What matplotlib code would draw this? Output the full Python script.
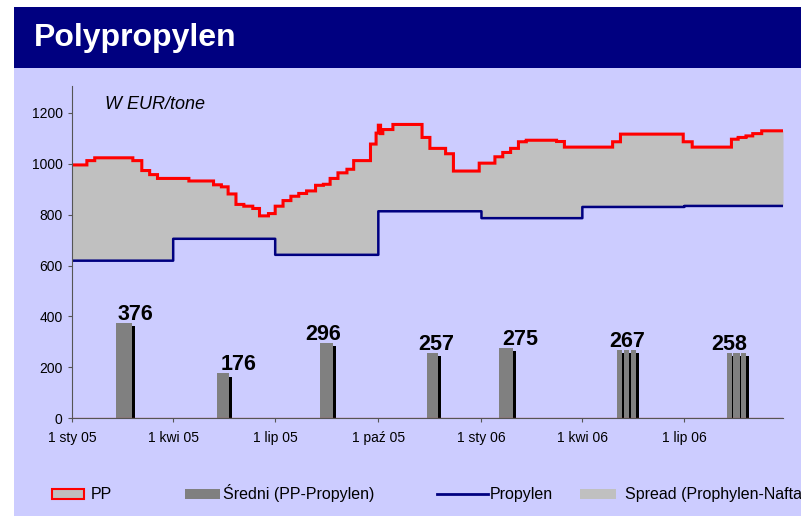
import numpy as np
import matplotlib.pyplot as plt
import matplotlib.patheffects as pe
from matplotlib.patches import Rectangle
from matplotlib.lines import Line2D

plt.rcParams['font.family'] = ['Liberation Sans', 'DejaVu Sans']

# dni od 1 sty 2005 i ceny (EUR/t)
pp_days = [0, 13, 20, 54, 62, 69, 76, 104, 126, 133, 139, 146, 153, 161, 167, 175,
           181, 188, 195, 202, 209, 217, 224, 230, 237, 245, 251, 266, 271, 273, 275,
           277, 286, 312, 319, 333, 340, 363, 377, 384, 391, 398, 405, 432, 439, 482,
           489, 545, 553, 588, 594, 601, 607, 615]
pp_vals = [995, 1012, 1023, 1012, 973, 957, 942, 932, 917, 909, 881, 840, 833, 824, 795, 804,
           833, 855, 872, 883, 893, 915, 919, 942, 964, 978, 1012, 1077, 1120, 1151, 1118,
           1134, 1154, 1103, 1060, 1039, 971, 1002, 1027, 1044, 1060, 1086, 1092, 1087, 1065, 1086,
           1116, 1086, 1065, 1096, 1103, 1109, 1118, 1129]

propylen_days = [0, 90, 181, 273, 365, 455, 546]
propylen_vals = [619, 705, 642, 813, 786, 830, 834]

# średni spread (PP-Propylen)
bar_days = [46.3, 134.6, 226.8, 321.3, 386.8, 488.0, 494.7, 500.9, 586.5, 592.5, 598.5]
bar_span = [14.3, 10.7, 11.6, 9.8, 12.5, 4.5, 4.5, 4.5, 4.5, 5.5, 4.5]
bar_vals = [376, 176, 296, 257, 275, 267, 267, 267, 258, 258, 258]
label_groups = [[0], [1], [2], [3], [4], [5, 6, 7], [8, 9, 10]]
label_vals = [376, 176, 296, 257, 275, 267, 258]

tick_days = [0, 90, 181, 273, 365, 455, 546]
tick_labels = ['1 sty 05', '1 kwi 05', '1 lip 05', '1 paź 05', '1 sty 06', '1 kwi 06', '1 lip 06']
end_day = 634

# wartości dzienne (schodkowo)
grid = np.arange(0, end_day + 1)
pp_daily = np.array(pp_vals)[np.searchsorted(pp_days, grid, side='right') - 1]
pr_daily = np.array(propylen_vals)[np.searchsorted(propylen_days, grid, side='right') - 1]

W, H = 801, 516
fig = plt.figure(figsize=(W / 100, H / 100), dpi=100, facecolor='white')
fig.patches.append(Rectangle((14 / W, 0), 1, 1 - 68 / H, transform=fig.transFigure,
                             facecolor='#CCCCFF', edgecolor='none', zorder=-10))
fig.patches.append(Rectangle((14 / W, 1 - 68 / H), 1, 61 / H, transform=fig.transFigure,
                             facecolor='#000080', edgecolor='none', zorder=-10))
fig.text(34 / W, 1 - 38 / H, 'Polypropylen', color='white', fontsize=23,
         fontweight='bold', va='center', ha='left')

ax = fig.add_axes([72.3 / W, 1 - 418.3 / H, (783 - 72.3) / W, (418.3 - 86) / H])
ax.set_facecolor('none')

ax.fill_between(grid, pr_daily, pp_daily, step='post', color='#C0C0C0', lw=0)
ax.plot(grid, pp_daily, drawstyle='steps-post', color='red', lw=2.2, solid_joinstyle='miter')
ax.plot(grid, pr_daily, drawstyle='steps-post', color='#000080', lw=1.8)

shadow = [pe.SimplePatchShadow(offset=(2.2, -2.2), shadow_rgbFace='black', alpha=1), pe.Normal()]
bars = ax.bar(bar_days, bar_vals, width=bar_span, color='#808080', edgecolor='none', zorder=3)
for b in bars:
    b.set_path_effects(shadow)

label_dx = [11, 15, -3, 4, 14, 1, -7]
for grp, v, dx in zip(label_groups, label_vals, label_dx):
    cx = np.mean([bar_days[i] for i in grp])
    ax.annotate(str(v), (cx, v), xytext=(dx * 0.72, 2.2), textcoords='offset points',
                ha='center', va='baseline', fontsize=15.5, fontweight='bold', zorder=5)

ax.axhline(0, color='#C04040', lw=0.9, zorder=4)

ax.set_xlim(0, end_day)
ax.set_ylim(0, 1305)
ax.set_yticks(range(0, 1201, 200))
ax.set_xticks(tick_days)
ax.set_xticklabels(tick_labels)
for s in ['top', 'right']:
    ax.spines[s].set_visible(False)
for s in ['left', 'bottom']:
    ax.spines[s].set_color('#555555')
ax.tick_params(axis='both', colors='#555555', length=3, labelcolor='black', labelsize=10)
ax.tick_params(axis='y', pad=4)
ax.tick_params(axis='x', pad=6)

fig.text(105 / W, 1 - 109 / H, 'W EUR/tone', fontsize=13, style='italic', va='baseline')

# legenda (rysowana ręcznie w pikselach)
def px(x, y):
    return x / W, 1 - y / H

ly = 494
fig.patches.append(Rectangle(px(52, ly + 5), 32 / W, 10 / H, transform=fig.transFigure,
                             facecolor='#C0C0C0', edgecolor='red', lw=1.5))
fig.patches.append(Rectangle(px(185, ly + 5), 35 / W, 10 / H, transform=fig.transFigure,
                             facecolor='#808080', edgecolor='none'))
fig.lines.append(Line2D([437 / W, 488 / W], [1 - ly / H] * 2, transform=fig.transFigure,
                        color='#000080', lw=2))
fig.patches.append(Rectangle(px(580, ly + 5), 36 / W, 10 / H, transform=fig.transFigure,
                             facecolor='#C0C0C0', edgecolor='none'))
for x, lab in [(91, 'PP'), (223, 'Średni (PP-Propylen)'), (490, 'Propylen'),
               (625, 'Spread (Prophylen-Nafta')]:
    fig.text(*px(x, ly + 5), lab, fontsize=11.5, va='baseline', ha='left')

fig.savefig('out.png', dpi=100, facecolor=fig.get_facecolor())
